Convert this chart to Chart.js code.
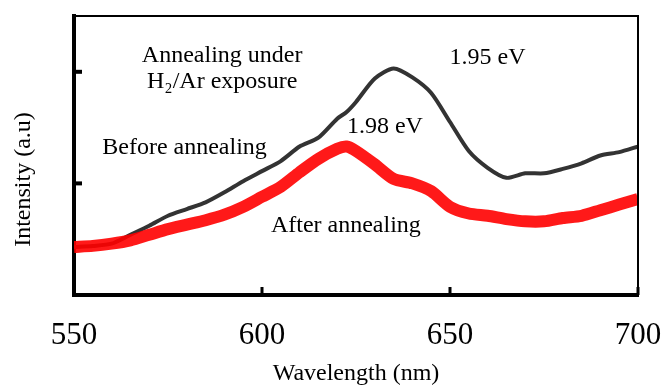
<!DOCTYPE html>
<html>
<head>
<meta charset="utf-8">
<title>Intensity vs wavelength</title>
<script src="https://cdn.jsdelivr.net/npm/chart.js@4.4.1/dist/chart.umd.min.js"></script>
<style>
    html, body { margin: 0; padding: 0; background: #fff; }
    #wrap { width: 662px; height: 388px; }
</style>
</head>
<body>
<div id="wrap"><canvas id="plChart" width="662" height="388"></canvas></div>
<script>
/* ---------- data ---------- */

const wavelengths = [550, 555, 560, 565, 570, 575, 580, 585, 590, 595, 600, 605, 610, 615, 620, 622.5,
                     625, 630, 635, 640, 645, 650, 655, 660, 665, 670, 675, 680, 685, 690, 695, 700];

// black curve, before annealing
const beforeAnnealing = [0.43, 0.44, 0.46, 0.54, 0.62, 0.71, 0.77, 0.83, 0.92, 1.02, 1.11, 1.20, 1.33, 1.41, 1.58, 1.64,
                         1.73, 1.94, 2.03, 1.95, 1.81, 1.55, 1.29, 1.14, 1.05, 1.09, 1.09, 1.13, 1.18, 1.25, 1.28, 1.33];

// red curve, after annealing
const afterAnnealing = [0.43, 0.44, 0.46, 0.49, 0.54, 0.59, 0.63, 0.67, 0.72, 0.79, 0.88, 0.97, 1.10, 1.22, 1.31, 1.33,
                        1.29, 1.17, 1.04, 1.00, 0.93, 0.79, 0.73, 0.71, 0.68, 0.66, 0.66, 0.69, 0.71, 0.76, 0.81, 0.86];

const xTickMarks = [600, 650, 700];
const yTickMarks = [1, 2];

// text labels placed in data units (x = nm, y = baseline)
const labels = [
    { text: "Annealing under", x: 589.4, y: 2.09 },
    { text: "H\u2082/Ar exposure", x: 589.4, y: 1.857 },
    { text: "Before annealing", x: 579.4, y: 1.259 },
    { text: "1.95 eV", x: 660, y: 2.071 },
    { text: "1.98 eV", x: 632.7, y: 1.455 },
    { text: "After annealing", x: 622.3, y: 0.5625 }
];

const SERIF = "'Liberation Serif', 'Times New Roman', serif";

/* ---------- frame, inward ticks and labels ---------- */

const decorations = {
    id: "decorations",
    afterDraw(chart) {
        const c = chart.ctx;
        const a = chart.chartArea;
        const xs = chart.scales.x;
        const ys = chart.scales.y;

        c.save();
        // thin top / right border
        c.strokeStyle = "#000";
        c.lineWidth = 2;
        c.beginPath();
        c.moveTo(a.left, a.top);
        c.lineTo(a.right, a.top);
        c.lineTo(a.right, a.bottom);
        c.stroke();

        // inward tick marks
        c.lineWidth = 3;
        xTickMarks.forEach(v => {
            const px = xs.getPixelForValue(v);
            c.beginPath();
            c.moveTo(px, a.bottom);
            c.lineTo(px, a.bottom - 8);
            c.stroke();
        });
        c.lineWidth = 4;
        yTickMarks.forEach(v => {
            const py = ys.getPixelForValue(v);
            c.beginPath();
            c.moveTo(a.left, py);
            c.lineTo(a.left + 8, py);
            c.stroke();
        });

        // text labels
        c.fillStyle = "#000";
        c.font = "24px " + SERIF;
        c.textAlign = "center";
        c.textBaseline = "alphabetic";
        labels.forEach(l => {
            c.fillText(l.text, xs.getPixelForValue(l.x), ys.getPixelForValue(l.y));
        });
        c.restore();
    }
};

/* ---------- chart ---------- */

new Chart(document.getElementById("plChart"), {
    type: "line",
    data: {
        datasets: [
            {
                label: "Before annealing",
                data: wavelengths.map((w, i) => ({ x: w, y: beforeAnnealing[i] })),
                borderColor: "#333333",
                borderWidth: 4,
                pointRadius: 0,
                tension: 0.25,
                order: 2   // drawn first, red sits on top
            },
            {
                label: "After annealing",
                data: wavelengths.map((w, i) => ({ x: w, y: afterAnnealing[i] })),
                borderColor: "rgba(255, 0, 0, 0.9)",
                borderWidth: 12,
                pointRadius: 0,
                tension: 0.25,
                order: 1
            }
        ]
    },
    options: {
        responsive: false,
        animation: false,
        layout: { padding: { top: 16, right: 0, left: 0, bottom: 0 } },
        plugins: {
            legend: { display: false },
            tooltip: { enabled: false }
        },
        scales: {
            x: {
                type: "linear",
                min: 550,
                max: 700,
                afterFit(scale) {
                    scale.height = 93;
                    scale.paddingRight = 24;
                },
                grid: { display: false, drawTicks: false },
                border: { display: true, color: "#000", width: 4 },
                ticks: {
                    stepSize: 50,
                    padding: 22,
                    color: "#000",
                    font: { family: SERIF, size: 31 }
                },
                title: {
                    display: true,
                    text: "Wavelength (nm)",
                    color: "#000",
                    padding: { top: 0, bottom: 0 },
                    font: { family: SERIF, size: 24 }
                }
            },
            y: {
                min: 0,
                max: 2.5,
                afterFit(scale) { scale.width = 74; },
                grid: { display: false, drawTicks: false },
                border: { display: true, color: "#000", width: 4 },
                ticks: { display: false },
                title: {
                    display: true,
                    text: "Intensity (a.u)\u2002\u2002\u2002\u2002",
                    color: "#000",
                    padding: { top: 9, bottom: 0 },
                    font: { family: SERIF, size: 24 }
                }
            }
        }
    },
    plugins: [decorations]
});
</script>
</body>
</html>
